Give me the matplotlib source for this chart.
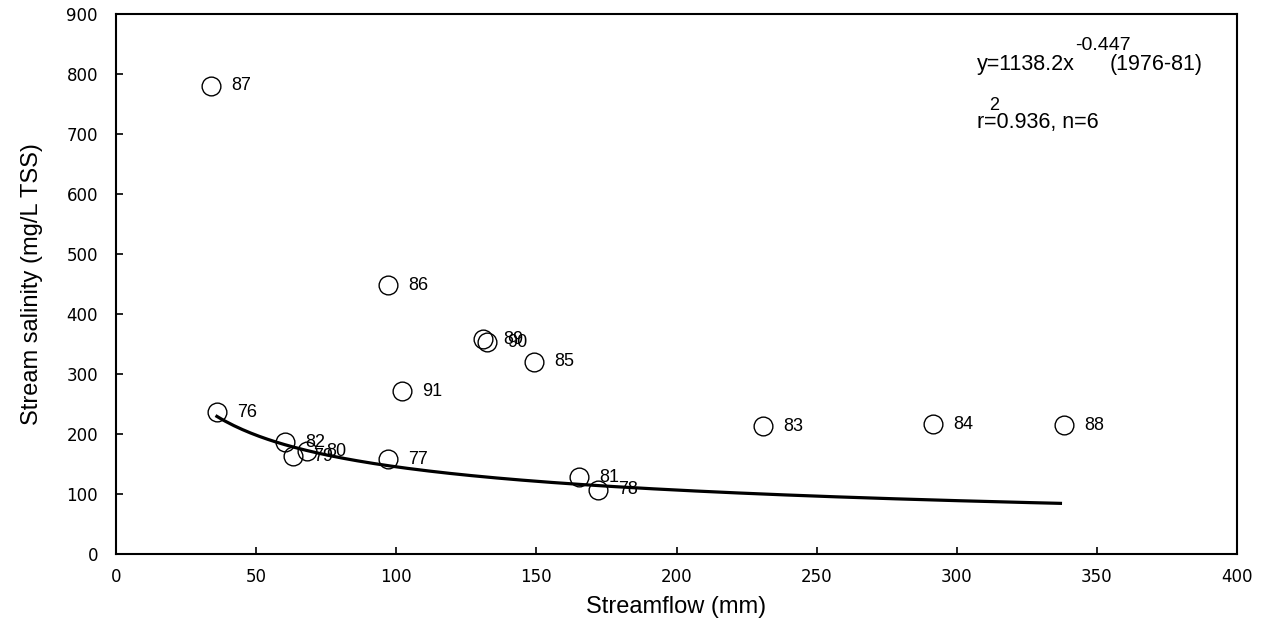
import numpy as np
import matplotlib
matplotlib.use("Agg")
import matplotlib.pyplot as plt

plt.rcParams['font.family'] = ['Liberation Sans', 'DejaVu Sans']

# Annual streamflow (mm) and mean stream salinity (mg/L TSS), labelled by year
years = ["87", "76", "82", "79", "80", "86", "89", "90", "85", "91", "77", "83", "84", "88", "81", "78"]
streamflow = [33.8, 36.0, 60.2, 63.0, 68.0, 97.2, 131.1, 132.5, 149.2, 101.9, 97.2, 230.8, 291.7, 338.4, 165.3, 172.0]
salinity = [780, 236, 186, 163, 171, 448, 358, 353, 320, 271, 158, 213, 216, 215, 128, 107]

# Power-law fit for 1976-81: y = a * x^b
fit_a = 1138.2
fit_b = -0.447
fit_range = (36.0, 337.0)

x_ticks = [0, 50, 100, 150, 200, 250, 300, 350, 400]
y_ticks = [0, 100, 200, 300, 400, 500, 600, 700, 800, 900]

W, H = 1283, 627
fig = plt.figure(figsize=(W / 100, H / 100), dpi=100)
ax = fig.add_axes([116 / W, 1 - 554 / H, (1237 - 116) / W, (554 - 14) / H])

ax.plot(streamflow, salinity, linestyle='none', marker='o', markersize=13.5,
        markerfacecolor='none', markeredgecolor='black', markeredgewidth=1.0, zorder=3)

for yr, xv, yv in zip(years, streamflow, salinity):
    ax.annotate(yr, (xv, yv), xytext=(14.5, 0), textcoords='offset points',
                ha='left', va='center', fontsize=13)

xf = np.linspace(fit_range[0], fit_range[1], 200)
ax.plot(xf, fit_a * xf ** fit_b, color='black', linewidth=2.3, zorder=2)

ax.set_xlim(0, 400)
ax.set_ylim(0, 900)
ax.set_xticks(x_ticks)
ax.set_yticks(y_ticks)
ax.tick_params(direction='in', length=5, width=1.2, labelsize=12)
ax.tick_params(axis='x', pad=10)
ax.tick_params(axis='y', pad=13)
for lbl in ax.get_xticklabels() + ax.get_yticklabels():
    lbl.set_family('DejaVu Sans')
for s in ax.spines.values():
    s.set_linewidth(1.5)

ax.set_xlabel("Streamflow (mm)", fontsize=17, labelpad=7)
ax.set_ylabel("Stream salinity (mg/L TSS)", fontsize=17, labelpad=17)

# Fitted equation and statistics, placed in figure pixels
def put(px, py, s, size):
    fig.text(px / W, 1 - py / H, s, ha='left', va='baseline', fontsize=size)

put(977, 70, "y=1138.2x", 15.5)
put(1075, 50, "-0.447", 14)
put(1110, 70, "(1976-81)", 15.5)
put(977, 128, "r", 15.5)
put(989, 110, "2", 13)
put(984, 128, "=0.936, n=6", 15.5)

fig.savefig("out.png", dpi=100)
